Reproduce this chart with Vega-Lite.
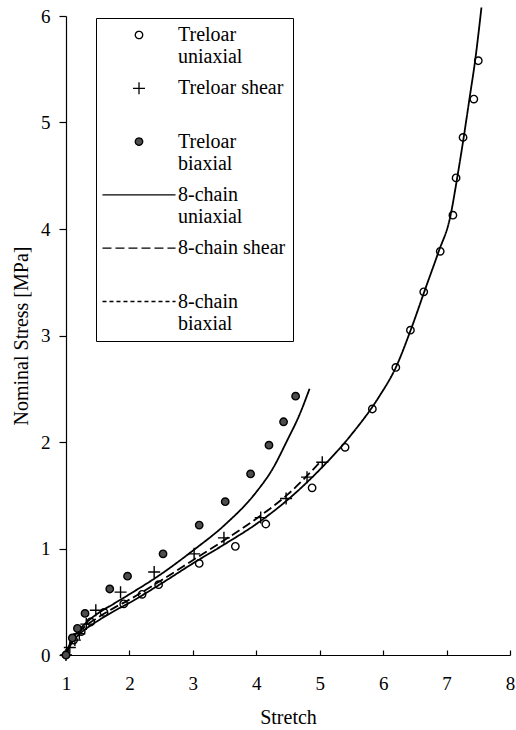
{
  "$schema": "https://vega.github.io/schema/vega-lite/v6.json",
  "width": 444,
  "height": 639,
  "autosize": {"type": "none"},
  "padding": {"left": 66, "top": 16, "right": 6, "bottom": 75},
  "background": "white",
  "config": {
    "view": {"stroke": null},
    "font": "Liberation Serif",
    "axis": {
      "grid": false,
      "domainColor": "black",
      "domainWidth": 1.2,
      "tickColor": "black",
      "tickWidth": 1.2,
      "labelColor": "black",
      "titleColor": "black",
      "labelFont": "Liberation Serif",
      "titleFont": "Liberation Serif",
      "labelFontSize": 19,
      "titleFontSize": 20,
      "titleFontWeight": "normal"
    }
  },
  "datasets": {
    "treloar": [
      {"series": "Treloar uniaxial", "stretch": 1.0, "stress": 0.0},
      {"series": "Treloar uniaxial", "stretch": 1.12, "stress": 0.14},
      {"series": "Treloar uniaxial", "stretch": 1.24, "stress": 0.22},
      {"series": "Treloar uniaxial", "stretch": 1.39, "stress": 0.31},
      {"series": "Treloar uniaxial", "stretch": 1.6, "stress": 0.4},
      {"series": "Treloar uniaxial", "stretch": 1.91, "stress": 0.48},
      {"series": "Treloar uniaxial", "stretch": 2.2, "stress": 0.57},
      {"series": "Treloar uniaxial", "stretch": 2.46, "stress": 0.66},
      {"series": "Treloar uniaxial", "stretch": 3.1, "stress": 0.86},
      {"series": "Treloar uniaxial", "stretch": 3.67, "stress": 1.02},
      {"series": "Treloar uniaxial", "stretch": 4.15, "stress": 1.23},
      {"series": "Treloar uniaxial", "stretch": 4.88, "stress": 1.57},
      {"series": "Treloar uniaxial", "stretch": 5.4, "stress": 1.95},
      {"series": "Treloar uniaxial", "stretch": 5.83, "stress": 2.31},
      {"series": "Treloar uniaxial", "stretch": 6.2, "stress": 2.7},
      {"series": "Treloar uniaxial", "stretch": 6.43, "stress": 3.05},
      {"series": "Treloar uniaxial", "stretch": 6.64, "stress": 3.41},
      {"series": "Treloar uniaxial", "stretch": 6.9, "stress": 3.79},
      {"series": "Treloar uniaxial", "stretch": 7.1, "stress": 4.13},
      {"series": "Treloar uniaxial", "stretch": 7.15, "stress": 4.48},
      {"series": "Treloar uniaxial", "stretch": 7.26, "stress": 4.86},
      {"series": "Treloar uniaxial", "stretch": 7.43, "stress": 5.22},
      {"series": "Treloar uniaxial", "stretch": 7.5, "stress": 5.58},
      {"series": "Treloar shear", "stretch": 1.0, "stress": 0.0},
      {"series": "Treloar shear", "stretch": 1.06, "stress": 0.07},
      {"series": "Treloar shear", "stretch": 1.14, "stress": 0.14},
      {"series": "Treloar shear", "stretch": 1.21, "stress": 0.2},
      {"series": "Treloar shear", "stretch": 1.32, "stress": 0.29},
      {"series": "Treloar shear", "stretch": 1.47, "stress": 0.42},
      {"series": "Treloar shear", "stretch": 1.86, "stress": 0.59},
      {"series": "Treloar shear", "stretch": 2.39, "stress": 0.78},
      {"series": "Treloar shear", "stretch": 3.02, "stress": 0.95},
      {"series": "Treloar shear", "stretch": 3.49, "stress": 1.1},
      {"series": "Treloar shear", "stretch": 4.07, "stress": 1.29},
      {"series": "Treloar shear", "stretch": 4.47, "stress": 1.47},
      {"series": "Treloar shear", "stretch": 4.8, "stress": 1.67},
      {"series": "Treloar shear", "stretch": 5.04, "stress": 1.81},
      {"series": "Treloar biaxial", "stretch": 1.0, "stress": 0.0},
      {"series": "Treloar biaxial", "stretch": 1.1, "stress": 0.16},
      {"series": "Treloar biaxial", "stretch": 1.18, "stress": 0.25},
      {"series": "Treloar biaxial", "stretch": 1.3, "stress": 0.39},
      {"series": "Treloar biaxial", "stretch": 1.69, "stress": 0.62},
      {"series": "Treloar biaxial", "stretch": 1.97, "stress": 0.74},
      {"series": "Treloar biaxial", "stretch": 2.53, "stress": 0.95},
      {"series": "Treloar biaxial", "stretch": 3.1, "stress": 1.22},
      {"series": "Treloar biaxial", "stretch": 3.51, "stress": 1.44},
      {"series": "Treloar biaxial", "stretch": 3.91, "stress": 1.7},
      {"series": "Treloar biaxial", "stretch": 4.2, "stress": 1.97},
      {"series": "Treloar biaxial", "stretch": 4.43, "stress": 2.19},
      {"series": "Treloar biaxial", "stretch": 4.62, "stress": 2.43}
    ],
    "model": [
      {"series": "8-chain uniaxial", "stretch": 1.0, "stress": 0.0},
      {"series": "8-chain uniaxial", "stretch": 1.05, "stress": 0.07},
      {"series": "8-chain uniaxial", "stretch": 1.1, "stress": 0.12},
      {"series": "8-chain uniaxial", "stretch": 1.2, "stress": 0.19},
      {"series": "8-chain uniaxial", "stretch": 1.3, "stress": 0.24},
      {"series": "8-chain uniaxial", "stretch": 1.5, "stress": 0.32},
      {"series": "8-chain uniaxial", "stretch": 1.75, "stress": 0.41},
      {"series": "8-chain uniaxial", "stretch": 2.0, "stress": 0.49},
      {"series": "8-chain uniaxial", "stretch": 2.5, "stress": 0.67},
      {"series": "8-chain uniaxial", "stretch": 3.0, "stress": 0.86},
      {"series": "8-chain uniaxial", "stretch": 3.5, "stress": 1.04},
      {"series": "8-chain uniaxial", "stretch": 4.0, "stress": 1.23},
      {"series": "8-chain uniaxial", "stretch": 4.5, "stress": 1.46},
      {"series": "8-chain uniaxial", "stretch": 5.0, "stress": 1.74},
      {"series": "8-chain uniaxial", "stretch": 5.5, "stress": 2.07},
      {"series": "8-chain uniaxial", "stretch": 5.93, "stress": 2.42},
      {"series": "8-chain uniaxial", "stretch": 6.2, "stress": 2.7},
      {"series": "8-chain uniaxial", "stretch": 6.44, "stress": 3.06},
      {"series": "8-chain uniaxial", "stretch": 6.66, "stress": 3.43},
      {"series": "8-chain uniaxial", "stretch": 6.87, "stress": 3.78},
      {"series": "8-chain uniaxial", "stretch": 7.06, "stress": 4.12},
      {"series": "8-chain uniaxial", "stretch": 7.17, "stress": 4.49},
      {"series": "8-chain uniaxial", "stretch": 7.27, "stress": 4.86},
      {"series": "8-chain uniaxial", "stretch": 7.36, "stress": 5.22},
      {"series": "8-chain uniaxial", "stretch": 7.45, "stress": 5.58},
      {"series": "8-chain uniaxial", "stretch": 7.55, "stress": 6.08},
      {"series": "8-chain shear", "stretch": 1.0, "stress": 0.0},
      {"series": "8-chain shear", "stretch": 1.05, "stress": 0.08},
      {"series": "8-chain shear", "stretch": 1.1, "stress": 0.14},
      {"series": "8-chain shear", "stretch": 1.2, "stress": 0.21},
      {"series": "8-chain shear", "stretch": 1.3, "stress": 0.27},
      {"series": "8-chain shear", "stretch": 1.5, "stress": 0.35},
      {"series": "8-chain shear", "stretch": 1.75, "stress": 0.44},
      {"series": "8-chain shear", "stretch": 2.0, "stress": 0.52},
      {"series": "8-chain shear", "stretch": 2.5, "stress": 0.7},
      {"series": "8-chain shear", "stretch": 3.0, "stress": 0.89},
      {"series": "8-chain shear", "stretch": 3.5, "stress": 1.08},
      {"series": "8-chain shear", "stretch": 4.0, "stress": 1.28},
      {"series": "8-chain shear", "stretch": 4.5, "stress": 1.51},
      {"series": "8-chain shear", "stretch": 5.02, "stress": 1.82},
      {"series": "8-chain biaxial", "stretch": 1.0, "stress": 0.0},
      {"series": "8-chain biaxial", "stretch": 1.05, "stress": 0.09},
      {"series": "8-chain biaxial", "stretch": 1.1, "stress": 0.15},
      {"series": "8-chain biaxial", "stretch": 1.2, "stress": 0.23},
      {"series": "8-chain biaxial", "stretch": 1.35, "stress": 0.32},
      {"series": "8-chain biaxial", "stretch": 1.5, "stress": 0.39},
      {"series": "8-chain biaxial", "stretch": 1.75, "stress": 0.48},
      {"series": "8-chain biaxial", "stretch": 2.0, "stress": 0.57},
      {"series": "8-chain biaxial", "stretch": 2.5, "stress": 0.76},
      {"series": "8-chain biaxial", "stretch": 3.0, "stress": 0.98},
      {"series": "8-chain biaxial", "stretch": 3.5, "stress": 1.22},
      {"series": "8-chain biaxial", "stretch": 4.0, "stress": 1.53},
      {"series": "8-chain biaxial", "stretch": 4.25, "stress": 1.74},
      {"series": "8-chain biaxial", "stretch": 4.5, "stress": 2.03},
      {"series": "8-chain biaxial", "stretch": 4.67, "stress": 2.24},
      {"series": "8-chain biaxial", "stretch": 4.84, "stress": 2.5}
    ]
  },
  "encoding": {
    "x": {
      "field": "stretch",
      "type": "quantitative",
      "scale": {"domain": [1, 8], "nice": false, "zero": false},
      "axis": {"values": [1, 2, 3, 4, 5, 6, 7, 8], "title": "Stretch", "tickSize": -5, "labelPadding": 24, "titlePadding": 14, "labelFlush": false}
    },
    "y": {
      "field": "stress",
      "type": "quantitative",
      "scale": {"domain": [0, 6], "nice": false},
      "axis": {"values": [0, 1, 2, 3, 4, 5, 6], "title": "Nominal Stress [MPa]", "tickSize": 7, "labelPadding": 9, "titlePadding": 9, "labelFlush": false}
    }
  },
  "layer": [
    {
      "data": {"name": "model"},
      "mark": {"type": "line", "color": "black", "strokeWidth": 1.8, "interpolate": "monotone"},
      "encoding": {
        "detail": {"field": "series", "type": "nominal"},
        "strokeDash": {
          "field": "series",
          "type": "nominal",
          "scale": {"domain": ["8-chain uniaxial", "8-chain shear", "8-chain biaxial"], "range": [[1, 0], [9, 4], [1, 0]]},
          "legend": null
        }
      }
    },
    {
      "data": {"name": "treloar"},
      "mark": {"type": "point", "filled": true, "stroke": "black", "strokeWidth": 1.4, "opacity": 1, "size": 55},
      "encoding": {
        "shape": {
          "field": "series",
          "type": "nominal",
          "scale": {
            "domain": ["Treloar uniaxial", "Treloar shear", "Treloar biaxial", "8-chain uniaxial", "8-chain shear", "8-chain biaxial"],
            "range": ["circle", "M-1.62,0H1.62M0,-1.62V1.62", "circle", "M-9.85,0H9.85", "M-9.85,0H9.85", "M-9.85,0H9.85"]
          },
          "legend": {
            "title": null,
            "orient": "none",
            "legendX": 30,
            "legendY": 2,
            "direction": "vertical",
            "padding": 7,
            "strokeColor": "black",
            "fillColor": "white",
            "labelFont": "Liberation Serif",
            "labelFontSize": 20,
            "labelColor": "black",
            "labelLimit": 0,
            "labelExpr": "indexof(datum.label, 'shear') >= 0 ? datum.label : split(datum.label, ' ')",
            "symbolSize": 55,
            "symbolStrokeWidth": 1.3,
            "symbolOffset": 26,
            "labelOffset": 29,
            "rowPadding": 11.3,
            "gridAlign": "all",
            "encoding": {
              "symbols": {
                "fill": {"value": {"expr": "datum.value === 'Treloar biaxial' ? '#4d4d4d' : 'transparent'"}},
                "strokeDash": {"value": {"expr": "datum.value === '8-chain shear' ? [9, 4] : datum.value === '8-chain biaxial' ? [4, 3] : [1, 0]"}},
                "stroke": {"value": "black"}
              }
            }
          }
        },
        "fill": {
          "condition": {"test": "datum.series === 'Treloar biaxial'", "value": "#4d4d4d"},
          "value": "transparent"
        }
      }
    }
  ]
}
